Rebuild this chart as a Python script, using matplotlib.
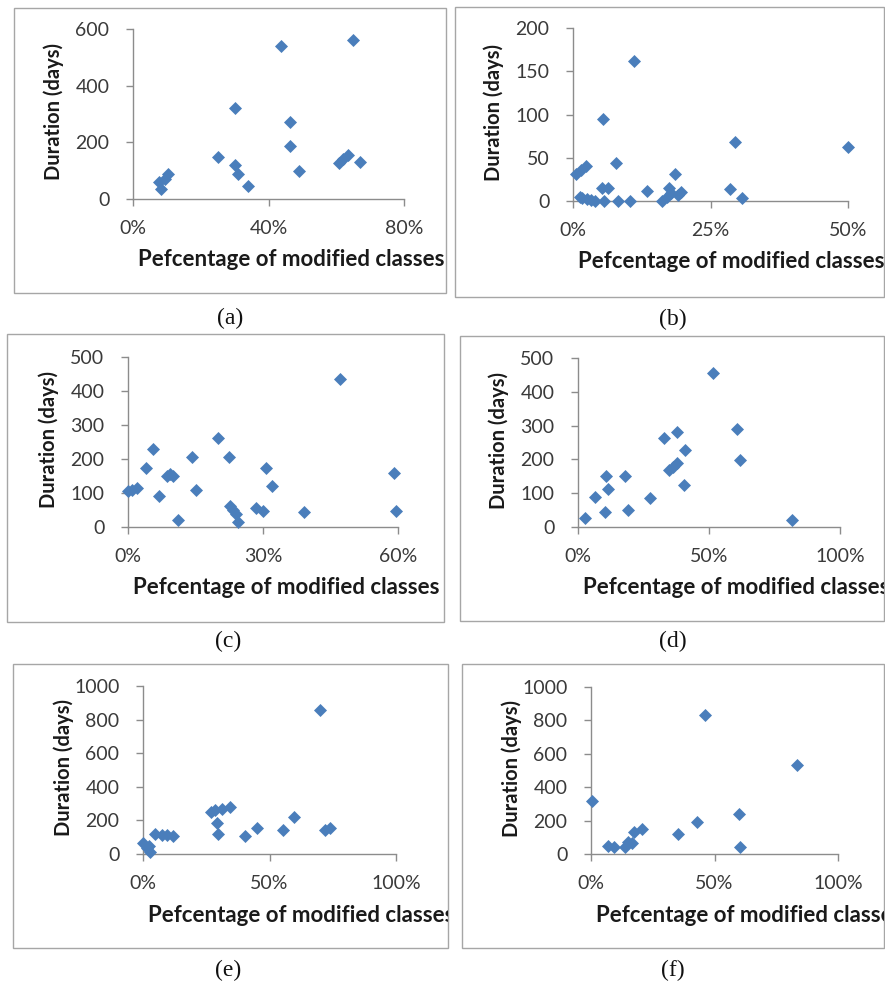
import matplotlib
matplotlib.use('Agg')
import matplotlib.pyplot as plt
from matplotlib.patches import Rectangle
from matplotlib.ticker import FuncFormatter
from matplotlib.transforms import Bbox

W, H = 885, 985

# ── data ─────────────────────────────────────────────────────────────────────
a_pct = [0.077, 0.084, 0.095, 0.103, 0.251, 0.302, 0.300, 0.310, 0.340,
         0.436, 0.463, 0.463, 0.490, 0.609, 0.621, 0.635, 0.650, 0.670]
a_days = [59, 35, 72, 88, 150, 321, 121, 88, 45,
          541, 271, 186, 100, 127, 141, 156, 560, 129]

b_pct = [0.006, 0.015, 0.024, 0.012, 0.016, 0.025, 0.033, 0.040, 0.052,
         0.064, 0.055, 0.056, 0.079, 0.082, 0.103, 0.111, 0.135, 0.161,
         0.170, 0.174, 0.179, 0.185, 0.191, 0.197, 0.285, 0.294, 0.308, 0.500]
b_days = [31, 36, 41, 5, 4, 2, 1, 0, 15,
          15, 95, 0, 44, 0, 0, 162, 12, 0,
          5, 15, 9, 31, 7, 10, 14, 68, 4, 63]

c_pct = [0.0, 0.009, 0.020, 0.040, 0.055, 0.068, 0.086, 0.094, 0.101,
         0.112, 0.142, 0.151, 0.201, 0.224, 0.227, 0.234, 0.240, 0.245,
         0.284, 0.299, 0.307, 0.321, 0.391, 0.471, 0.591, 0.596]
c_days = [106, 108, 116, 175, 228, 92, 151, 155, 151,
          20, 205, 108, 261, 205, 62, 49, 37, 15,
          57, 47, 175, 121, 44, 436, 159, 47]

d_pct = [0.025, 0.064, 0.104, 0.108, 0.115, 0.178, 0.191, 0.274, 0.329,
         0.346, 0.363, 0.376, 0.376, 0.405, 0.410, 0.516, 0.605, 0.620, 0.815]
d_days = [28, 89, 45, 151, 111, 151, 51, 87, 264,
          168, 178, 188, 280, 124, 228, 455, 290, 198, 20]

e_pct = [0.0, 0.016, 0.029, 0.022, 0.049, 0.075, 0.095, 0.118, 0.268,
         0.286, 0.292, 0.295, 0.312, 0.345, 0.404, 0.450, 0.555, 0.595,
         0.700, 0.720, 0.739]
e_days = [67, 34, 10, 50, 119, 113, 113, 109, 248,
          261, 182, 119, 267, 277, 109, 152, 143, 222,
          859, 143, 152]

f_pct = [0.004, 0.069, 0.092, 0.139, 0.150, 0.166, 0.173, 0.206, 0.351,
         0.429, 0.463, 0.598, 0.605, 0.834]
f_days = [319, 50, 40, 40, 74, 64, 129, 149, 120,
          193, 831, 239, 40, 532]

captions = ['(a)', '(b)', '(c)', '(d)', '(e)', '(f)']
x_title = 'Pefcentage of modified classes'
y_title = 'Duration (days)'

# ── layout (pixel boxes: left, top, right, bottom) ───────────────────────────
layout = [
    dict(x=a_pct, y=a_days, frame=(14, 8, 446, 293), ax=(133, 29, 404, 199),
         xticks=[0, 0.4, 0.8], yticks=range(0, 601, 200), cap=(230, 318)),
    dict(x=b_pct, y=b_days, frame=(455, 7, 884, 297), ax=(573, 28, 848, 201),
         xticks=[0, 0.25, 0.5], yticks=range(0, 201, 50), cap=(673, 319)),
    dict(x=c_pct, y=c_days, frame=(7, 334, 444, 622), ax=(128, 357, 398, 527),
         xticks=[0, 0.3, 0.6], yticks=range(0, 501, 100), cap=(228, 641)),
    dict(x=d_pct, y=d_days, frame=(460, 336, 884, 621), ax=(578, 358, 840, 527),
         xticks=[0, 0.5, 1.0], yticks=range(0, 501, 100), cap=(673, 641)),
    dict(x=e_pct, y=e_days, frame=(13, 664, 448, 948), ax=(143, 686, 396, 854),
         xticks=[0, 0.5, 1.0], yticks=range(0, 1001, 200), cap=(228, 970)),
    dict(x=f_pct, y=f_days, frame=(462, 664, 884, 948), ax=(591, 687, 838, 854),
         xticks=[0, 0.5, 1.0], yticks=range(0, 1001, 200), cap=(673, 970)),
]

AXIS_GREY = '#8c8c8c'
TICK_TEXT = '#3a3a3a'
MARKER = '#4a7ebb'
FONT = 'Lato'


def fx(px):
    return px / W


def fy(py):
    return 1 - py / H


fig = plt.figure(figsize=(W / 100, H / 100), dpi=100)

for cap, p in zip(captions, layout):
    l, t, r, b = p['frame']
    fig.patches.append(Rectangle((fx(l), fy(b)), fx(r - l), (b - t) / H,
                                 transform=fig.transFigure, fill=False,
                                 edgecolor='#a6a6a6', linewidth=1.0))
    clip = Bbox([[l, H - b], [r, H - t]])

    al, at, ar, ab = p['ax']
    ax = fig.add_axes([fx(al), fy(ab), fx(ar - al), (ab - at) / H])
    ax.scatter(p['x'], p['y'], marker='D', s=44, color=MARKER,
               linewidths=0, clip_on=False, zorder=3)
    ax.set_xlim(0, p['xticks'][-1])
    ax.set_ylim(0, p['yticks'][-1])
    ax.set_xticks(p['xticks'])
    ax.set_yticks(list(p['yticks']))
    ax.xaxis.set_major_formatter(FuncFormatter(lambda v, _: f'{v * 100:.0f}%'))
    for side in ('top', 'right'):
        ax.spines[side].set_visible(False)
    for side in ('left', 'bottom'):
        ax.spines[side].set_color(AXIS_GREY)
        ax.spines[side].set_linewidth(1.0)
    ax.tick_params(direction='out', length=5, width=1.0, color=AXIS_GREY,
                   labelcolor=TICK_TEXT, labelsize=14)
    ax.tick_params(axis='y', pad=12)
    ax.tick_params(axis='x', pad=10)
    for lab in ax.get_xticklabels() + ax.get_yticklabels():
        lab.set_family(FONT)
    ax.patch.set_alpha(0)

    # axis titles, clipped to the panel frame like the original
    xt = fig.text(fx(al + 5), fy(ab + 61), x_title, ha='left', va='center',
                  fontsize=16, fontweight='bold', family=FONT, color='#1a1a1a')
    xt.set_clip_box(clip)
    xt.set_clip_on(True)
    fig.text(fx(al - 79), fy((at + ab) / 2 - 2), y_title, rotation=90,
             ha='center', va='center', fontsize=14.5, fontweight='bold',
             family=FONT, color='#1a1a1a')

    cx, cy = p['cap']
    fig.text(fx(cx), fy(cy), cap, ha='center', va='center', fontsize=17,
             family='Liberation Serif', color='#111111')

fig.savefig('out.png', dpi=100)
